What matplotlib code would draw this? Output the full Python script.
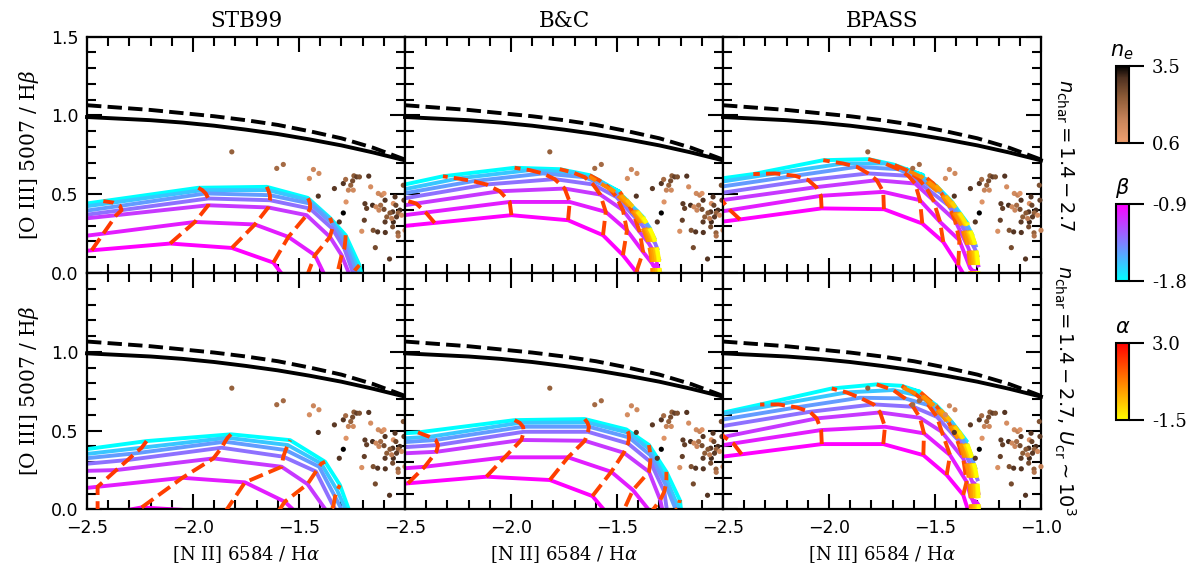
import numpy as np
import matplotlib
matplotlib.use("Agg")
import matplotlib.pyplot as plt
from matplotlib.colors import LinearSegmentedColormap, Normalize
import matplotlib.cm as cm

# ---------------- data ----------------
MODEL_TITLES = ["STB99", "B&C", "BPASS"]
ROW_LABELS = [r"$n_{\rm char} = 1.4 - 2.7$",
              r"$n_{\rm char} = 1.4 - 2.7,\, U_{\rm cr} \sim 10^3$"]

# demarcation curves
DEM_X = [-2.5, -2.35, -2.2, -2.05, -1.9, -1.75, -1.6, -1.45, -1.3, -1.15, -1.0]
SOLID_Y = [0.99, 0.98, 0.97, 0.955, 0.935, 0.91, 0.882, 0.848, 0.81, 0.765, 0.715]
DASHED_Y = [1.065, 1.05, 1.035, 1.015, 0.995, 0.97, 0.94, 0.90, 0.855, 0.795, 0.72]

# observed galaxies
OBS_X = [-1.817, -1.605, -1.574, -1.451, -1.432, -1.406, -1.409, -1.333, -1.291, -1.280,
         -1.267, -1.256, -1.247, -1.241, -1.228, -1.215, -1.171, -1.162, -1.244, -1.278,
         -1.291, -1.310, -1.189, -1.181, -1.153, -1.137, -1.126, -1.110, -1.099, -1.094,
         -1.115, -1.123, -1.099, -1.047, -1.055, -1.043, -1.024, -1.058, -1.071, -1.032,
         -1.040, -1.016, -1.005, -1.008, -1.192, -1.150, -1.129, -1.093, -1.058, -1.033,
         -1.032, -1.140, -1.073, -1.204, -1.094, -1.086, -1.055, -1.063, -1.000]
OBS_Y = [0.769, 0.664, 0.689, 0.600, 0.657, 0.632, 0.488, 0.536, 0.568, 0.594,
         0.526, 0.557, 0.585, 0.617, 0.610, 0.610, 0.615, 0.547, 0.526, 0.451,
         0.381, 0.324, 0.440, 0.410, 0.430, 0.420, 0.505, 0.494, 0.505, 0.462,
         0.430, 0.399, 0.404, 0.483, 0.441, 0.430, 0.399, 0.388, 0.381, 0.381,
         0.356, 0.367, 0.462, 0.557, 0.335, 0.271, 0.261, 0.257, 0.293, 0.255,
         0.235, 0.161, 0.089, 0.265, 0.324, 0.356, 0.324, 0.346, 0.271]
OBS_NE = [2.2, 2.0, 2.0, 1.2, 1.4, 1.3, 3.0, 2.9, 3.0, 2.0,
          1.5, 2.2, 2.6, 2.3, 2.8, 2.5, 3.0, 1.2, 1.3, 1.0,
          3.5, 3.0, 2.9, 2.8, 3.1, 1.3, 1.3, 1.5, 1.0, 3.0,
          2.0, 1.4, 2.6, 3.0, 1.0, 2.7, 3.1, 3.0, 2.4, 2.2,
          2.9, 1.2, 2.8, 2.5, 2.8, 2.5, 3.0, 3.0, 2.6, 2.2,
          1.8, 2.6, 3.0, 1.1, 2.9, 2.3, 3.1, 1.6, 1.5]

# model grid: rows = beta, columns = alpha
BETA = [-0.9, -1.0, -1.1, -1.3, -1.45, -1.6, -1.8]

STB99_TOP_ALPHA = [2.6, 2.0, 1.95, 1.9, 1.85, 1.8, 1.7, 1.6, 1.5]
STB99_TOP_X = [
    [-2.9, -2.478, -2.108, -1.817, -1.621, -1.50, -1.40, -1.30, -1.25],
    [-2.9, -2.423, -1.991, -1.708, -1.550, -1.425, -1.34, -1.28, -1.23],
    [-2.9, -2.362, -1.928, -1.645, -1.464, -1.354, -1.299, -1.25, -1.22],
    [-2.9, -2.337, -1.928, -1.637, -1.448, -1.343, -1.286, -1.245, -1.21],
    [-2.9, -2.344, -1.940, -1.637, -1.448, -1.343, -1.283, -1.235, -1.205],
    [-2.9, -2.376, -1.956, -1.645, -1.453, -1.349, -1.281, -1.225, -1.20],
    [-2.9, -2.423, -1.975, -1.652, -1.459, -1.354, -1.280, -1.215, -1.195]]
STB99_TOP_Y = [
    [0.095, 0.144, 0.187, 0.159, 0.066, -0.15, -0.35, -0.5, -0.7],
    [0.170, 0.250, 0.324, 0.308, 0.229, 0.113, -0.12, -0.3, -0.5],
    [0.290, 0.367, 0.430, 0.416, 0.367, 0.229, 0.113, -0.05, -0.25],
    [0.300, 0.399, 0.473, 0.462, 0.409, 0.282, 0.155, 0.0, -0.15],
    [0.320, 0.426, 0.505, 0.494, 0.441, 0.314, 0.187, 0.02, -0.12],
    [0.350, 0.447, 0.526, 0.526, 0.462, 0.335, 0.214, 0.035, -0.10],
    [0.366, 0.456, 0.541, 0.547, 0.477, 0.350, 0.240, 0.050, -0.08]]

STB99_BOT_ALPHA = [2.6, 2.0, 1.9, 1.8, 1.7, 1.6, 1.5]
STB99_BOT_X = [
    [-2.9, -2.45, -2.242, -1.85, -1.65, -1.50, -1.40],
    [-2.9, -2.45, -2.05, -1.755, -1.567, -1.45, -1.38],
    [-2.9, -2.362, -1.904, -1.582, -1.46, -1.36, -1.30],
    [-2.9, -2.308, -1.865, -1.574, -1.42, -1.338, -1.29],
    [-2.9, -2.274, -1.849, -1.563, -1.405, -1.33, -1.28],
    [-2.9, -2.242, -1.837, -1.553, -1.395, -1.32, -1.27],
    [-2.9, -2.219, -1.821, -1.542, -1.377, -1.307, -1.26]]
STB99_BOT_Y = [
    [-0.20, -0.04, 0.012, -0.02, -0.12, -0.30, -0.50],
    [0.08, 0.143, 0.200, 0.171, 0.048, -0.10, -0.30],
    [0.23, 0.249, 0.323, 0.270, 0.160, -0.03, -0.20],
    [0.24, 0.313, 0.391, 0.334, 0.240, 0.02, -0.10],
    [0.27, 0.355, 0.429, 0.376, 0.270, 0.08, -0.05],
    [0.29, 0.391, 0.454, 0.408, 0.290, 0.12, -0.03],
    [0.31, 0.433, 0.476, 0.439, 0.302, 0.154, -0.02]]

BC_TOP_ALPHA = [2.6, 2.0, 1.95, 1.9, 1.8, 1.7, 1.6, 0.7, 0.4, 0.1, -0.3, -0.7, -1.1, -1.5]
BC_TOP_X = [
    [-2.9, -2.36, -1.998, -1.731, -1.566, -1.472, -1.409, -1.332, -1.325, -1.318, -1.311, -1.302, -1.299, -1.297],
    [-2.9, -2.402, -2.006, -1.723, -1.553, -1.453, -1.377, -1.335, -1.328, -1.321, -1.312, -1.303, -1.300, -1.298],
    [-2.9, -2.447, -2.053, -1.747, -1.579, -1.472, -1.393, -1.350, -1.339, -1.328, -1.321, -1.308, -1.305, -1.302],
    [-2.9, -2.52, -2.116, -1.794, -1.613, -1.503, -1.417, -1.387, -1.362, -1.344, -1.338, -1.320, -1.315, -1.310],
    [-2.9, -2.57, -2.179, -1.849, -1.652, -1.542, -1.440, -1.444, -1.407, -1.377, -1.365, -1.343, -1.333, -1.324],
    [-2.9, -2.62, -2.250, -1.912, -1.708, -1.585, -1.465, -1.521, -1.476, -1.421, -1.404, -1.382, -1.363, -1.346],
    [-2.9, -2.68, -2.321, -1.983, -1.770, -1.629, -1.487, -1.630, -1.535, -1.487, -1.455, -1.429, -1.402, -1.377]]
BC_TOP_Y = [
    [0.245, 0.318, 0.367, 0.335, 0.240, 0.113, 0.006, -0.06, -0.06, -0.06, -0.06, -0.06, -0.06, -0.06],
    [0.300, 0.384, 0.451, 0.451, 0.388, 0.271, 0.134, 0.062, 0.045, 0.037, 0.062, 0.020, 0.020, 0.012],
    [0.350, 0.441, 0.519, 0.536, 0.498, 0.399, 0.261, 0.188, 0.163, 0.130, 0.146, 0.105, 0.097, 0.088],
    [0.370, 0.470, 0.562, 0.596, 0.562, 0.483, 0.356, 0.312, 0.270, 0.229, 0.229, 0.188, 0.171, 0.155],
    [0.410, 0.490, 0.583, 0.632, 0.608, 0.547, 0.420, 0.425, 0.376, 0.330, 0.312, 0.270, 0.245, 0.221],
    [0.420, 0.500, 0.600, 0.653, 0.638, 0.589, 0.473, 0.522, 0.481, 0.411, 0.390, 0.355, 0.321, 0.287],
    [0.450, 0.510, 0.614, 0.668, 0.659, 0.621, 0.515, 0.612, 0.540, 0.505, 0.465, 0.425, 0.390, 0.355]]

BC_BOT_ALPHA = [2.6, 2.0, 1.95, 1.9, 1.85, 1.75, 1.65, 1.55, 1.5]
BC_BOT_X = [
    [-2.9, -2.486, -2.116, -1.817, -1.616, -1.50, -1.40, -1.30, -1.25],
    [-2.9, -2.407, -2.030, -1.731, -1.527, -1.425, -1.34, -1.28, -1.23],
    [-2.9, -2.352, -1.951, -1.652, -1.468, -1.349, -1.296, -1.27, -1.22],
    [-2.9, -2.344, -1.940, -1.637, -1.448, -1.343, -1.277, -1.26, -1.21],
    [-2.9, -2.355, -1.943, -1.632, -1.443, -1.343, -1.270, -1.222, -1.20],
    [-2.9, -2.384, -1.959, -1.640, -1.446, -1.346, -1.267, -1.210, -1.195],
    [-2.9, -2.439, -1.983, -1.652, -1.456, -1.349, -1.267, -1.204, -1.19]]
BC_BOT_Y = [
    [0.10, 0.165, 0.207, 0.186, 0.084, -0.10, -0.30, -0.50, -0.7],
    [0.22, 0.270, 0.330, 0.330, 0.238, 0.122, -0.02, -0.30, -0.5],
    [0.33, 0.365, 0.440, 0.435, 0.359, 0.238, 0.059, -0.10, -0.3],
    [0.36, 0.408, 0.492, 0.492, 0.418, 0.302, 0.112, -0.05, -0.2],
    [0.39, 0.440, 0.524, 0.524, 0.456, 0.344, 0.154, -0.004, -0.15],
    [0.42, 0.460, 0.549, 0.551, 0.486, 0.380, 0.190, 0.010, -0.12],
    [0.45, 0.488, 0.566, 0.573, 0.507, 0.408, 0.238, 0.059, -0.08]]

BPASS_TOP_ALPHA = [2.6, 2.0, 1.95, 1.9, 1.8, 1.7, 1.6, 0.7, 0.4, 0.1, -0.3, -0.7, -1.1, -1.5]
BPASS_TOP_X = [
    [-2.9, -2.42, -2.035, -1.741, -1.560, -1.461, -1.390, -1.333, -1.326, -1.319, -1.312, -1.303, -1.298, -1.295],
    [-2.9, -2.467, -2.038, -1.744, -1.571, -1.476, -1.385, -1.334, -1.327, -1.319, -1.312, -1.303, -1.298, -1.295],
    [-2.9, -2.506, -2.060, -1.775, -1.594, -1.508, -1.406, -1.344, -1.332, -1.321, -1.314, -1.305, -1.300, -1.296],
    [-2.9, -2.55, -2.098, -1.815, -1.626, -1.539, -1.437, -1.382, -1.356, -1.331, -1.324, -1.312, -1.305, -1.300],
    [-2.9, -2.60, -2.160, -1.869, -1.673, -1.579, -1.469, -1.461, -1.414, -1.364, -1.348, -1.333, -1.317, -1.308],
    [-2.9, -2.65, -2.255, -1.933, -1.736, -1.634, -1.508, -1.560, -1.488, -1.424, -1.396, -1.369, -1.344, -1.325],
    [-2.9, -2.70, -2.357, -2.027, -1.815, -1.697, -1.555, -1.640, -1.570, -1.495, -1.457, -1.420, -1.385, -1.349]]
BPASS_TOP_Y = [
    [0.26, 0.340, 0.410, 0.405, 0.314, 0.197, 0.049, -0.08, -0.08, -0.08, -0.08, -0.08, -0.08, -0.08],
    [0.31, 0.399, 0.490, 0.515, 0.462, 0.324, 0.208, 0.030, 0.022, 0.005, 0.013, 0.005, -0.004, -0.012],
    [0.36, 0.462, 0.545, 0.589, 0.568, 0.462, 0.335, 0.163, 0.120, 0.090, 0.090, 0.073, 0.064, 0.048],
    [0.40, 0.500, 0.590, 0.632, 0.617, 0.536, 0.430, 0.320, 0.258, 0.195, 0.185, 0.153, 0.132, 0.110],
    [0.44, 0.530, 0.617, 0.674, 0.659, 0.600, 0.505, 0.483, 0.412, 0.320, 0.283, 0.245, 0.208, 0.174],
    [0.46, 0.550, 0.632, 0.695, 0.695, 0.653, 0.568, 0.605, 0.535, 0.452, 0.399, 0.346, 0.295, 0.245],
    [0.48, 0.565, 0.628, 0.716, 0.723, 0.689, 0.621, 0.660, 0.618, 0.555, 0.503, 0.452, 0.386, 0.320]]

BPASS_BOT_ALPHA = [2.6, 2.0, 1.95, 1.9, 1.8, 1.7, 1.6, 0.7, 0.4, 0.1, -0.3, -0.7, -1.1, -1.5]
BPASS_BOT_X = [
    [-2.9, -2.412, -2.034, -1.744, -1.555, -1.445, -1.367, -1.331, -1.324, -1.317, -1.310, -1.301, -1.296, -1.293],
    [-2.9, -2.451, -2.037, -1.736, -1.552, -1.429, -1.351, -1.332, -1.325, -1.317, -1.310, -1.301, -1.296, -1.293],
    [-2.9, -2.495, -2.058, -1.759, -1.571, -1.468, -1.367, -1.346, -1.333, -1.321, -1.314, -1.304, -1.300, -1.295],
    [-2.9, -2.54, -2.090, -1.790, -1.603, -1.491, -1.398, -1.385, -1.360, -1.334, -1.326, -1.315, -1.307, -1.300],
    [-2.9, -2.59, -2.153, -1.854, -1.642, -1.531, -1.437, -1.461, -1.415, -1.367, -1.351, -1.337, -1.320, -1.310],
    [-2.9, -2.64, -2.239, -1.917, -1.697, -1.586, -1.491, -1.558, -1.488, -1.424, -1.397, -1.373, -1.347, -1.329],
    [-2.9, -2.70, -2.325, -1.987, -1.775, -1.657, -1.571, -1.650, -1.571, -1.495, -1.457, -1.423, -1.387, -1.352]]
BPASS_BOT_Y = [
    [0.27, 0.349, 0.414, 0.414, 0.344, 0.218, 0.091, -0.06, -0.06, -0.06, -0.06, -0.06, -0.06, -0.06],
    [0.32, 0.418, 0.503, 0.524, 0.482, 0.344, 0.175, 0.078, 0.065, 0.040, 0.052, 0.040, 0.030, 0.020],
    [0.36, 0.460, 0.577, 0.615, 0.581, 0.492, 0.323, 0.251, 0.202, 0.165, 0.165, 0.140, 0.128, 0.102],
    [0.42, 0.520, 0.619, 0.666, 0.651, 0.587, 0.450, 0.435, 0.362, 0.288, 0.276, 0.239, 0.214, 0.190],
    [0.46, 0.550, 0.647, 0.708, 0.704, 0.661, 0.555, 0.589, 0.521, 0.435, 0.391, 0.347, 0.303, 0.263],
    [0.49, 0.575, 0.666, 0.742, 0.757, 0.725, 0.651, 0.713, 0.641, 0.558, 0.509, 0.460, 0.406, 0.347],
    [0.50, 0.555, 0.665, 0.767, 0.793, 0.784, 0.746, 0.772, 0.735, 0.662, 0.610, 0.558, 0.497, 0.435]]

GRIDS = [[(STB99_TOP_X, STB99_TOP_Y, STB99_TOP_ALPHA),
          (BC_TOP_X, BC_TOP_Y, BC_TOP_ALPHA),
          (BPASS_TOP_X, BPASS_TOP_Y, BPASS_TOP_ALPHA)],
         [(STB99_BOT_X, STB99_BOT_Y, STB99_BOT_ALPHA),
          (BC_BOT_X, BC_BOT_Y, BC_BOT_ALPHA),
          (BPASS_BOT_X, BPASS_BOT_Y, BPASS_BOT_ALPHA)]]

# colour scales
NE_RANGE = (0.6, 3.5)
BETA_RANGE = (-1.8, -0.9)
ALPHA_RANGE = (-1.5, 3.0)

# ---------------- style ----------------
SERIF = "DejaVu Serif"
ne_cmap = LinearSegmentedColormap.from_list(
    "ne", [(0.0, "#f0a070"), (0.3, "#c8845a"), (0.6, "#8c5a36"),
           (0.85, "#4e3020"), (1.0, "#000000")])
beta_cmap = plt.get_cmap("cool")
alpha_cmap = plt.get_cmap("autumn_r")
ne_norm = Normalize(*NE_RANGE)
beta_norm = Normalize(*BETA_RANGE)
alpha_norm = Normalize(*ALPHA_RANGE)

fig = plt.figure(figsize=(12.04, 5.79), dpi=100)
L, R, T, B = 87 / 1204, 1041 / 1204, 1 - 36.7 / 579, 1 - 509.3 / 579
gs = fig.add_gridspec(2, 3, left=L, right=R, top=T, bottom=B, wspace=0, hspace=0)

for r in range(2):
    for c in range(3):
        ax = fig.add_subplot(gs[r, c])
        gx, gy, galpha = GRIDS[r][c]
        gx = np.array(gx)
        gy = np.array(gy)
        # demarcation lines
        ax.plot(DEM_X, SOLID_Y, color="black", lw=2.8, zorder=1, clip_on=False)
        ax.plot(DEM_X, DASHED_Y, color="black", lw=2.8, ls="--", zorder=1, clip_on=False)
        # beta lines (solid)
        for i in range(len(BETA) - 1, -1, -1):
            ax.plot(gx[i], gy[i], color=beta_cmap(beta_norm(BETA[i])), lw=2.8,
                    zorder=2, solid_joinstyle="round")
        # alpha lines (dashed)
        for j in range(len(galpha)):
            ax.plot(gx[:, j], gy[:, j], color=alpha_cmap(alpha_norm(galpha[j])),
                    lw=2.8, ls="--", zorder=3)
        # observations
        ax.scatter(OBS_X, OBS_Y, c=OBS_NE, cmap=ne_cmap, norm=ne_norm, s=14,
                   edgecolors="none", zorder=5, clip_on=False)

        ax.set_xlim(-2.5, -1.0)
        ax.set_ylim(0.0, 1.5)
        ax.set_xticks([-2.5, -2.0, -1.5, -1.0])
        ax.set_xticks(np.arange(-2.5, -0.95, 0.1), minor=True)
        ax.set_yticks([0.0, 0.5, 1.0, 1.5])
        ax.set_yticks(np.arange(0.0, 1.51, 0.1), minor=True)
        ax.tick_params(which="both", direction="in", top=True, right=True,
                       width=1.5, labelsize=12.5)
        ax.tick_params(which="major", length=11)
        ax.tick_params(which="minor", length=6.5)
        ax.tick_params(axis="x", which="major", pad=7)
        ax.tick_params(axis="y", which="major", pad=6)
        for s in ax.spines.values():
            s.set_linewidth(1.6)

        if r == 0:
            ax.set_title(MODEL_TITLES[c], fontsize=15.5, family=SERIF, pad=7)
            ax.set_xticklabels([])
        else:
            if c < 2:
                ax.set_xticklabels(["\u22122.5", "\u22122.0", "\u22121.5", ""])
            ax.set_xlabel(r"[N II] 6584 / H$\alpha$", fontsize=13, family=SERIF,
                          math_fontfamily="dejavuserif", labelpad=5)
        if c == 0:
            if r == 0:
                ax.set_yticklabels(["0.0", "0.5", "1.0", "1.5"])
            else:
                ax.set_yticklabels(["0.0", "0.5", "1.0", ""])
            ax.set_ylabel(r"[O III] 5007 / H$\beta$", fontsize=14.5, family=SERIF,
                          math_fontfamily="dejavuserif", labelpad=7)
        else:
            ax.set_yticklabels([])

# row labels on the right
row_centres = [1 - 154.7 / 579, 1 - 391 / 579]
for yc, lab in zip(row_centres, ROW_LABELS):
    fig.text(1065 / 1204, yc, lab, rotation=270, ha="center", va="center",
             fontsize=14)

# colourbars
def add_cbar(top_px, cmap, norm, lo, hi, lo_lab, hi_lab, title):
    x0, w = 1116 / 1204, 12.5 / 1204
    h = 77 / 579
    cax = fig.add_axes([x0, 1 - (top_px + 77) / 579, w, h])
    cb = fig.colorbar(cm.ScalarMappable(norm=norm, cmap=cmap), cax=cax)
    cb.set_ticks([lo, hi])
    cb.set_ticklabels([lo_lab, hi_lab])
    cax.tick_params(length=11, width=1.5, labelsize=13, pad=6)
    for t in cax.get_yticklabels():
        t.set_fontfamily(SERIF)
    cb.outline.set_linewidth(1.5)
    cax.set_title(title, fontsize=15, pad=7)

add_cbar(66, ne_cmap, ne_norm, NE_RANGE[0], NE_RANGE[1], "0.6", "3.5", r"$n_e$")
add_cbar(204, beta_cmap, beta_norm, BETA_RANGE[0], BETA_RANGE[1], "-1.8", "-0.9", r"$\beta$")
add_cbar(343, alpha_cmap, alpha_norm, ALPHA_RANGE[0], ALPHA_RANGE[1], "-1.5", "3.0", r"$\alpha$")

fig.savefig("out.png", dpi=100)
